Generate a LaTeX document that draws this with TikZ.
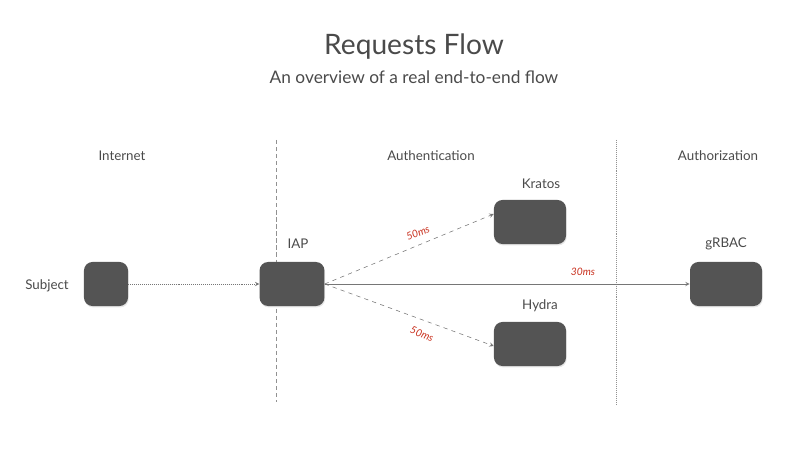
\documentclass[tikz,border=0pt]{standalone}
\usepackage{fontspec}
\setmainfont{Lato}
\usepackage{tikz}
\usetikzlibrary{positioning, arrows, shadows}
\definecolor{boxgray}{HTML}{545454}
\definecolor{linegray}{HTML}{767676}
\definecolor{textgray}{HTML}{4A4A4A}
\definecolor{msred}{HTML}{C8301E}
\tikzset{
>= stealth, % small arrow heads
service/.style={draw=none, fill=boxgray, rounded corners=6pt, minimum height=1.1cm, drop shadow={opacity=0.2, shadow xshift=0.5pt, shadow yshift=-1pt}}, % sets the dark boxes
caption/.style={text=textgray, font=\fontsize{9.5}{11}\selectfont}, % sets the labels
timing/.style={text=msred, font=\fontsize{7.3}{8}\selectfont\itshape}, % sets the latency labels
divider/.style={linegray!80, thin}, % sets the zone separators
}

\begin{document}
\begin{tikzpicture}[x=0.025cm, y=-0.025cm]
\useasboundingbox (0,0) rectangle (800,458);
\node[text=textgray, font=\fontsize{20}{24}\selectfont] (title) at (414,47) {Requests Flow};
\node[text=textgray, font=\fontsize{12.3}{15}\selectfont] (sub) at (414,77) {An overview of a real end-to-end flow};
% zones
\node[caption] (inet) at (122,156) {Internet};
\node[caption] (authn) at (431,156) {Authentication};
\node[caption] (authz) at (718,156) {Authorization};
\coordinate (d1a) at (276,140);
\coordinate (d1b) at (276,402);
\coordinate (d2a) at (616,140);
\coordinate (d2b) at (616,405);
\draw[divider, dash pattern=on 3pt off 2pt] (d1a) -- (d1b);
\draw[divider, densely dotted] (d2a) -- (d2b);
% services
\node[service, minimum width=1.1cm] at (106,284) (subject) {};
\node[service, minimum width=1.62cm] at (292,284) (iap) {};
\node[service, minimum width=1.8cm] at (530,222) (kratos) {};
\node[service, minimum width=1.8cm] at (530,344) (hydra) {};
\node[service, minimum width=1.8cm] at (726,284) (grbac) {};
\node[caption, left=0.25cm of subject, yshift=-1pt] (lsubject) {Subject};
\node[caption] at (298,244) (liap) {IAP};
\node[caption] at (541,184) (lkratos) {Kratos};
\node[caption] at (540,306) (lhydra) {Hydra};
\node[caption] at (726,244) (lgrbac) {gRBAC};
% requests
\draw[->, linegray, densely dotted] (subject) -- (iap);
\draw[->, linegray, dashed] (iap.east) -- (kratos.west |- 0,214);
\draw[->, linegray, dashed] (iap.east) -- (hydra.west |- 0,346);
\draw[->, linegray] (iap.east) -- (grbac.west);
\node[timing, rotate=22] at (418,233) (t1) {50ms};
\node[timing, rotate=-22] at (422,334) (t2) {50ms};
\node[timing] at (583,272) (t3) {30ms};
\end{tikzpicture}
\end{document}
